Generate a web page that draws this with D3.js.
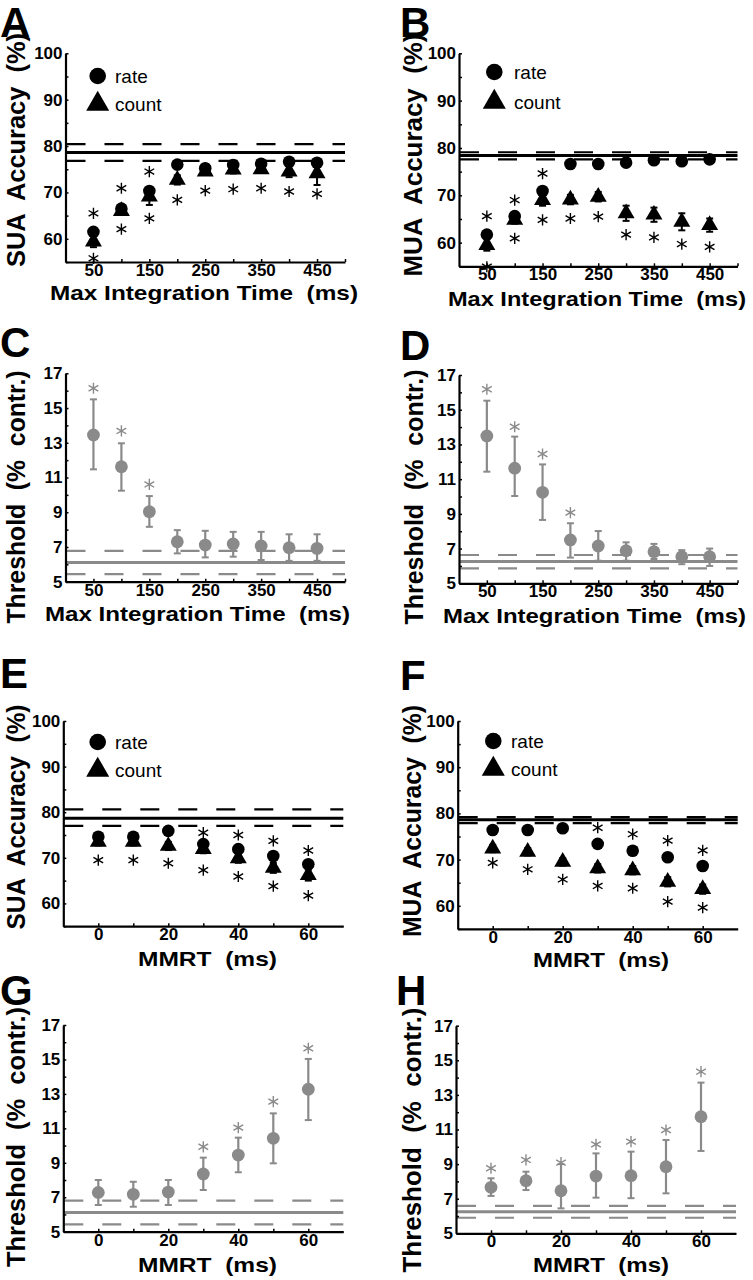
<!DOCTYPE html>
<html><head><meta charset="utf-8">
<script src="https://cdn.jsdelivr.net/npm/d3@7"></script>
<style>
body{margin:0;background:#fff}
svg{display:block}
text{font-family:"Liberation Sans",Arial,Helvetica,sans-serif}
</style>
</head><body>
<svg id="c" width="753" height="1280"></svg>
<script>
// ---------- data ----------
const timeX = [50,100,150,200,250,300,350,400,450];
const mmrtX = [0,10,20,30,40,50,60];
const timeTicks = [50,100,150,200,250,300,350,400,450,500];
const timeTickLabels = [50,150,250,350,450];
const mmrtTicks = [0,10,20,30,40,50,60];
const mmrtTickLabels = [0,20,40,60];
const accTicks = [55,60,65,70,75,80,85,90,95,100];
const accTickLabels = [60,70,80,90,100];
const thrTicks = [5,6,7,8,9,10,11,12,13,14,15,16,17];
const thrTickLabels = [5,7,9,11,13,15,17];

// A: SUA accuracy vs max integration time
const suaTimeRate      = [61.5,66.5,70.3,76.0,75.2,75.9,76.2,76.6,76.4];
const suaTimeCount     = [59.4,66.0,69.1,72.7,74.5,74.9,75.0,74.5,74.1];
const suaTimeCountErr  = [1.2,0.8,1.8,1.0,0.7,0.8,0.8,1.2,2.5];
const suaTimeStarRate  = [65.5,70.9,74.5,null,null,null,null,null,null];
const suaTimeStarCount = [55.8,62.1,64.4,68.4,70.4,70.7,70.9,70.2,69.7];
const suaTimeRef       = [78.6,80.4,76.8];

// B: MUA accuracy vs max integration time
const muaTimeRate      = [61.7,65.6,70.9,76.6,76.6,76.9,77.4,77.2,77.6];
const muaTimeCount     = [59.5,64.8,69.0,69.1,69.7,66.2,65.9,64.4,63.7];
const muaTimeCountErr  = [1.2,0.8,1.2,1.0,1.0,1.6,1.5,1.8,1.4];
const muaTimeStarRate  = [65.6,69.0,74.6,null,null,null,null,null,null];
const muaTimeStarCount = [54.9,60.9,64.8,65.1,65.5,61.7,61.1,59.7,59.1];
const muaTimeRef       = [78.4,79.1,77.6];

// C: SUA threshold vs max integration time
const suaTimeThr     = [13.45,11.62,9.03,7.30,7.11,7.17,7.06,6.96,6.92];
const suaTimeThrHi   = [15.50,12.97,9.93,7.97,7.93,7.87,7.87,7.73,7.73];
const suaTimeThrLo   = [11.47,10.24,8.16,6.63,6.40,6.44,6.25,6.20,6.20];
const suaTimeThrStar = [16.14,13.68,10.60,null,null,null,null,null,null];
const suaTimeThrRef  = [6.11,6.78,5.44];

// D: MUA threshold vs max integration time
const muaTimeThr     = [13.49,11.63,10.24,7.50,7.15,6.88,6.82,6.53,6.53];
const muaTimeThrHi   = [15.52,13.45,11.85,8.46,8.01,7.36,7.27,6.91,7.00];
const muaTimeThrLo   = [11.43,10.03,8.65,6.48,6.30,6.30,6.40,6.10,6.00];
const muaTimeThrStar = [16.18,14.02,12.45,9.07,null,null,null,null,null];
const muaTimeThrRef  = [6.25,6.63,5.86];

// E: SUA accuracy vs MMRT
const suaMmrtRate      = [74.6,74.6,75.9,73.0,71.9,70.4,68.6];
const suaMmrtCount     = [73.5,73.5,72.6,71.9,69.9,67.8,66.2];
const suaMmrtCountErr  = [0.8,0.8,0.9,0.9,1.0,1.1,1.2];
const suaMmrtStarRate  = [null,null,null,75.5,75.0,73.7,71.6];
const suaMmrtStarCount = [69.5,69.5,68.8,67.3,65.9,63.8,61.7];
const suaMmrtRef       = [78.7,80.6,77.0];

// F: MUA accuracy vs MMRT
const muaMmrtRate      = [76.4,76.4,76.8,73.4,71.9,70.5,68.6];
const muaMmrtCount     = [72.4,71.7,69.5,68.1,67.7,65.2,63.6];
const muaMmrtCountErr  = [0.8,0.8,0.8,0.9,0.9,1.0,1.0];
const muaMmrtStarRate  = [null,null,null,76.9,75.5,74.1,72.0];
const muaMmrtStarCount = [69.3,67.9,65.7,64.3,63.8,60.9,59.6];
const muaMmrtRef       = [78.6,79.2,77.9];

// G: SUA threshold vs MMRT
const suaMmrtThr     = [7.28,7.17,7.30,8.35,9.45,10.42,13.27];
const suaMmrtThrHi   = [8.00,7.90,8.00,9.30,10.46,11.87,15.03];
const suaMmrtThrLo   = [6.55,6.45,6.55,7.42,8.45,8.97,11.48];
const suaMmrtThrStar = [null,null,null,9.93,11.04,12.55,15.65];
const suaMmrtThrRef  = [6.12,6.80,5.43];

// H: MUA threshold vs MMRT
const muaMmrtThr     = [7.66,8.04,7.46,8.31,8.33,8.85,11.74];
const muaMmrtThrHi   = [8.18,8.56,9.00,9.62,9.72,10.39,13.71];
const muaMmrtThrLo   = [7.16,7.50,6.44,7.06,7.03,7.31,9.76];
const muaMmrtThrStar = [8.76,9.24,9.08,10.14,10.30,10.97,14.34];
const muaMmrtThrRef  = [6.25,6.58,5.90];

// ---------- drawing ----------
const svg = d3.select("#c");
const GRAY = "#8a8a8a";
const FONT = '"Liberation Sans",Arial,Helvetica,sans-serif';

function fit(t, w){ t.attr("textLength", w).attr("lengthAdjust","spacingAndGlyphs"); return t; }

function asterisk(g, cx, cy, color){
  const r = 5.6, p = [];
  for (let k=0;k<3;k++){
    const a = Math.PI/2 + k*Math.PI/3;
    p.push(`M${cx+r*Math.cos(a)},${cy-r*Math.sin(a)}L${cx-r*Math.cos(a)},${cy+r*Math.sin(a)}`);
  }
  g.append("path").attr("d", p.join("")).attr("stroke", color).attr("stroke-width",1.4).attr("fill","none");
}

function panel(c){
  const g = svg.append("g");
  const x = d3.scaleLinear().domain(c.xDom).range([c.x0, c.x1]);
  const y = d3.scaleLinear().domain(c.yDom).range([c.yB, c.yT]);

  // reference lines
  const refColor = c.kind === "acc" ? "#000" : GRAY;
  const [m, hi, lo] = c.ref;
  g.append("line").attr("x1",c.x0).attr("x2",c.x1).attr("y1",y(m)).attr("y2",y(m))
    .attr("stroke",refColor).attr("stroke-width",3);
  [hi, lo].forEach(v => g.append("line").attr("x1",c.x0+1).attr("x2",c.x1).attr("y1",y(v)).attr("y2",y(v))
    .attr("stroke",refColor).attr("stroke-width",2.2).attr("stroke-dasharray","19,19"));

  // axes
  const ySet = new Set(c.yLabels), xSet = new Set(c.xLabels);
  const ya = g.append("g").attr("transform",`translate(${c.x0},0)`)
    .call(d3.axisLeft(y).tickValues(c.yTicks).tickSize(-3).tickSizeOuter(0).tickPadding(3)
      .tickFormat(d => ySet.has(d) ? d : ""));
  const xa = g.append("g").attr("transform",`translate(0,${c.yB})`)
    .call(d3.axisBottom(x).tickValues(c.xTicks).tickSize(-3).tickSizeOuter(0).tickPadding(2)
      .tickFormat(d => xSet.has(d) ? d : ""));
  [ya, xa].forEach(a => {
    a.select(".domain").attr("stroke","#000").attr("stroke-width",2.2);
    a.selectAll(".tick line").attr("stroke","#000").attr("stroke-width",1.5);
    a.selectAll(".tick text").attr("font-family",FONT).attr("font-weight","bold")
      .attr("font-size",17).attr("fill","#000");
  });

  const xs = c.xs;
  if (c.kind === "acc"){
    // count error bars
    xs.forEach((xv,i) => {
      const e = c.err[i], v = c.count[i];
      g.append("line").attr("x1",x(xv)).attr("x2",x(xv)).attr("y1",y(v-e)).attr("y2",y(v+e))
        .attr("stroke","#000").attr("stroke-width",2);
      [v-e, v+e].forEach(t => g.append("line").attr("x1",x(xv)-3.5).attr("x2",x(xv)+3.5)
        .attr("y1",y(t)).attr("y2",y(t)).attr("stroke","#000").attr("stroke-width",2));
    });
    const tri = d3.symbol(d3.symbolTriangle, 125)();
    g.selectAll(null).data(xs).join("path").attr("d",tri)
      .attr("transform",(d,i)=>`translate(${x(d)},${y(c.count[i])})`).attr("fill","#000");
    g.selectAll(null).data(xs).join("circle").attr("cx",d=>x(d)).attr("cy",(d,i)=>y(c.rate[i]))
      .attr("r",6.3).attr("fill","#000");
    xs.forEach((xv,i) => {
      if (c.starRate[i] != null) asterisk(g, x(xv), y(c.starRate[i]), "#000");
      if (c.starCount[i] != null) asterisk(g, x(xv), y(c.starCount[i]), "#000");
    });
    // legend
    const L = c.legend;
    g.append("circle").attr("cx",L.cx).attr("cy",L.cy1).attr("r",8.3).attr("fill","#000");
    g.append("path").attr("d", d3.symbol(d3.symbolTriangle, 230)())
      .attr("transform",`translate(${L.cx},${L.cy2})`).attr("fill","#000");
    g.append("text").attr("x",L.tx).attr("y",L.cy1+7).attr("font-size",19).text("rate");
    g.append("text").attr("x",L.tx).attr("y",L.cy2+7).attr("font-size",19).text("count");
  } else {
    xs.forEach((xv,i) => {
      const px = x(xv);
      g.append("line").attr("x1",px).attr("x2",px).attr("y1",y(c.lo[i])).attr("y2",y(c.hi[i]))
        .attr("stroke",GRAY).attr("stroke-width",2.2);
      [c.lo[i], c.hi[i]].forEach(t => g.append("line").attr("x1",px-3.5).attr("x2",px+3.5)
        .attr("y1",y(t)).attr("y2",y(t)).attr("stroke",GRAY).attr("stroke-width",2));
    });
    g.selectAll(null).data(xs).join("circle").attr("cx",d=>x(d)).attr("cy",(d,i)=>y(c.mean[i]))
      .attr("r",6.4).attr("fill",GRAY);
    xs.forEach((xv,i) => { if (c.star[i] != null) asterisk(g, x(xv), y(c.star[i]), GRAY); });
  }

  // titles
  fit(g.append("text").attr("x",(c.xt0+c.xt1)/2).attr("y",c.xtY).attr("text-anchor","middle")
    .attr("font-weight","bold").attr("font-size",21).attr("xml:space","preserve").text(c.xTitle), c.xt1-c.xt0);
  fit(g.append("text").attr("transform",`translate(${c.ytX},${c.ytCy}) rotate(-90)`)
    .attr("text-anchor","middle").attr("font-weight","bold").attr("font-size",26)
    .attr("xml:space","preserve").text(c.yTitle), c.ytLen);
  g.append("text").attr("x",c.lx).attr("y",c.ly).attr("font-weight","bold").attr("font-size",42).text(c.letter);
}

const accBase = {kind:"acc", yDom:[55,100], yTicks:accTicks, yLabels:accTickLabels};
const thrBase = {kind:"thr", yDom:[5,17], yTicks:thrTicks, yLabels:thrTickLabels};
const timeBase = {xDom:[0,500], xTicks:timeTicks, xLabels:timeTickLabels, xs:timeX, xTitle:"Max Integration Time  (ms)"};
const mmrtBase = {xDom:[-10,70], xTicks:mmrtTicks, xLabels:mmrtTickLabels, xs:mmrtX, xTitle:"MMRT  (ms)"};

panel({...accBase, ...timeBase, x0:65.5, x1:345, yT:53.3, yB:262,
  rate:suaTimeRate, count:suaTimeCount, err:suaTimeCountErr, starRate:suaTimeStarRate, starCount:suaTimeStarCount, ref:suaTimeRef,
  legend:{cx:97.7, cy1:76, cy2:104, tx:115},
  xt0:50, xt1:358, xtY:300, yTitle:"SUA  Accuracy  (%)", ytX:25, ytCy:150, ytLen:234, letter:"A", lx:0, ly:37});
panel({...accBase, ...timeBase, x0:459, x1:737.5, yT:53.3, yB:266.3,
  rate:muaTimeRate, count:muaTimeCount, err:muaTimeCountErr, starRate:muaTimeStarRate, starCount:muaTimeStarCount, ref:muaTimeRef,
  legend:{cx:494.3, cy1:72, cy2:102, tx:514},
  xt0:448, xt1:746, xtY:306, yTitle:"MUA  Accuracy  (%)", ytX:422, ytCy:155, ytLen:243, letter:"B", lx:400, ly:37});
panel({...thrBase, ...timeBase, x0:65.5, x1:345, yT:373.3, yB:581.7,
  mean:suaTimeThr, hi:suaTimeThrHi, lo:suaTimeThrLo, star:suaTimeThrStar, ref:suaTimeThrRef,
  xt0:45, xt1:350, xtY:621, yTitle:"Threshold  (%  contr.)", ytX:25, ytCy:497, ytLen:253, letter:"C", lx:0, ly:357});
panel({...thrBase, ...timeBase, x0:459, x1:737.5, yT:375, yB:583.3,
  mean:muaTimeThr, hi:muaTimeThrHi, lo:muaTimeThrLo, star:muaTimeThrStar, ref:muaTimeThrRef,
  xt0:443, xt1:746, xtY:623, yTitle:"Threshold  (%  contr.)", ytX:423, ytCy:497, ytLen:255, letter:"D", lx:400, ly:360});
panel({...accBase, ...mmrtBase, x0:63.3, x1:343.3, yT:721, yB:926.2,
  rate:suaMmrtRate, count:suaMmrtCount, err:suaMmrtCountErr, starRate:suaMmrtStarRate, starCount:suaMmrtStarCount, ref:suaMmrtRef,
  legend:{cx:97.7, cy1:742, cy2:770, tx:115},
  xt0:138, xt1:277, xtY:966, yTitle:"SUA  Accuracy  (%)", ytX:25, ytCy:817, ytLen:225, letter:"E", lx:0, ly:688});
panel({...accBase, ...mmrtBase, x0:457.7, x1:737.7, yT:721, yB:928.9,
  rate:muaMmrtRate, count:muaMmrtCount, err:muaMmrtCountErr, starRate:muaMmrtStarRate, starCount:muaMmrtStarCount, ref:muaMmrtRef,
  legend:{cx:493.3, cy1:741, cy2:769, tx:511},
  xt0:533, xt1:669, xtY:967, yTitle:"MUA  Accuracy  (%)", ytX:421, ytCy:821, ytLen:232, letter:"F", lx:400, ly:690});
panel({...thrBase, ...mmrtBase, x0:63.3, x1:343.3, yT:1025, yB:1231.7,
  mean:suaMmrtThr, hi:suaMmrtThrHi, lo:suaMmrtThrLo, star:suaMmrtThrStar, ref:suaMmrtThrRef,
  xt0:138, xt1:277, xtY:1272, yTitle:"Threshold  (%  contr.)", ytX:25, ytCy:1137, ytLen:260, letter:"G", lx:0, ly:1005});
panel({...thrBase, ...mmrtBase, x0:456, x1:736, yT:1025.7, yB:1233.3,
  mean:muaMmrtThr, hi:muaMmrtThrHi, lo:muaMmrtThrLo, star:muaMmrtThrStar, ref:muaMmrtThrRef,
  xt0:533, xt1:669, xtY:1272, yTitle:"Threshold  (%  contr.)", ytX:421, ytCy:1140, ytLen:265, letter:"H", lx:396, ly:1005});
</script>
</body></html>
